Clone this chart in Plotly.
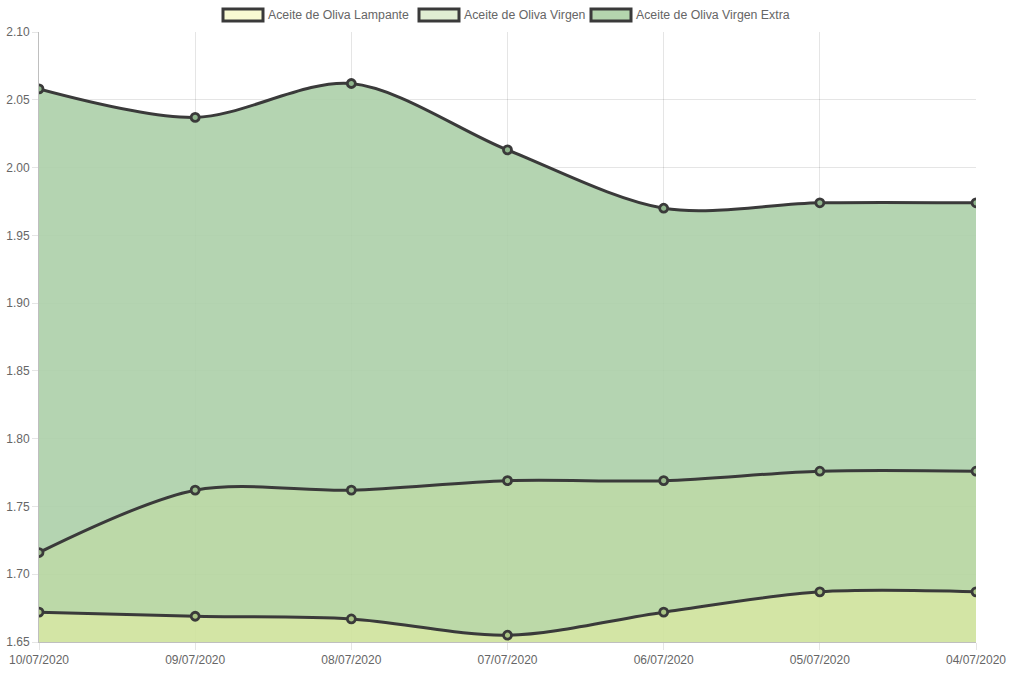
import plotly.graph_objects as go

dates = ["10/07/2020", "09/07/2020", "08/07/2020", "07/07/2020",
         "06/07/2020", "05/07/2020", "04/07/2020"]
lampante = [1.672, 1.669, 1.667, 1.655, 1.672, 1.687, 1.687]
virgen = [1.716, 1.762, 1.762, 1.769, 1.769, 1.776, 1.776]
virgen_extra = [2.058, 2.037, 2.062, 2.013, 1.970, 1.974, 1.974]
series_names = ["Aceite de Oliva Lampante", "Aceite de Oliva Virgen",
                "Aceite de Oliva Virgen Extra"]
y_ticks = [1.65, 1.70, 1.75, 1.80, 1.85, 1.90, 1.95, 2.00, 2.05, 2.10]

W, H = 1010, 673
L, R, T, B = 39, 34, 32, 31
LINE = "#3a3a3a"
FONT = "Liberation Sans, Arial, Helvetica, sans-serif"

band_fill = ["rgba(206,226,155,0.9)", "rgba(181,213,158,0.9)", "rgba(172,207,168,0.9)"]
marker_fill = ["#a9c484", "#98b98a", "#8fb58c"]
legend_fill = ["#f8fad2", "#e0edd2", "#b4d5ae"]

fig = go.Figure()
for i, (name, vals) in enumerate(zip(series_names, [lampante, virgen, virgen_extra])):
    fig.add_trace(go.Scatter(
        x=dates, y=vals, name=name,
        mode="lines+markers",
        fill="tozeroy" if i == 0 else "tonexty",
        fillcolor=band_fill[i],
        line=dict(color=LINE, width=3, shape="spline", smoothing=0.9),
        marker=dict(size=8, color=marker_fill[i], line=dict(color=LINE, width=2.8)),
        showlegend=False,
    ))

# legend drawn by hand, Chart.js style boxes (positions in window pixels)
def px_x(p):
    return (p - L) / (W - L - R)

def px_y(p):
    return 1 - (p - T) / (H - T - B)

legend_boxes = [(223, 263), (419, 459), (591, 631)]
for (x0, x1), name, col in zip(legend_boxes, series_names, legend_fill):
    fig.add_shape(type="rect", xref="paper", yref="paper",
                  x0=px_x(x0), x1=px_x(x1), y0=px_y(21), y1=px_y(9),
                  fillcolor=col, line=dict(color=LINE, width=3))
    fig.add_annotation(xref="paper", yref="paper", x=px_x(x1 + 5), y=px_y(15),
                       text=name, showarrow=False, xanchor="left", yanchor="middle",
                       xshift=-2,
                       font=dict(family=FONT, size=12.3, color="#666666"))

fig.update_layout(
    width=W, height=H,
    margin=dict(l=L, r=R, t=T, b=B),
    paper_bgcolor="white", plot_bgcolor="white",
    font=dict(family=FONT, size=12, color="#666666"),
    showlegend=False,
)
fig.update_xaxes(
    type="category", range=[0, 6], automargin=False,
    showgrid=True, gridcolor="rgba(0,0,0,0.1)", gridwidth=1,
    showline=True, linecolor="rgba(0,0,0,0.25)", linewidth=1,
    ticks="outside", ticklen=7, tickcolor="rgba(0,0,0,0.1)",
    tickfont=dict(size=12, color="#666666"),
    zeroline=False,
)
fig.update_yaxes(
    range=[1.65, 2.10], tickvals=y_ticks, tickformat=".2f", automargin=False,
    showgrid=True, gridcolor="rgba(0,0,0,0.1)", gridwidth=1,
    showline=True, linecolor="rgba(0,0,0,0.25)", linewidth=1,
    ticks="outside", ticklen=6, tickcolor="rgba(0,0,0,0.1)",
    tickfont=dict(size=12, color="#666666"),
    zeroline=False,
)

# drop the default page margin so the figure fills the window exactly
fig.write_html("out.html",
               config={"displayModeBar": False},
               post_script="document.body.style.margin='0';"
                           "document.body.style.overflow='hidden';")
